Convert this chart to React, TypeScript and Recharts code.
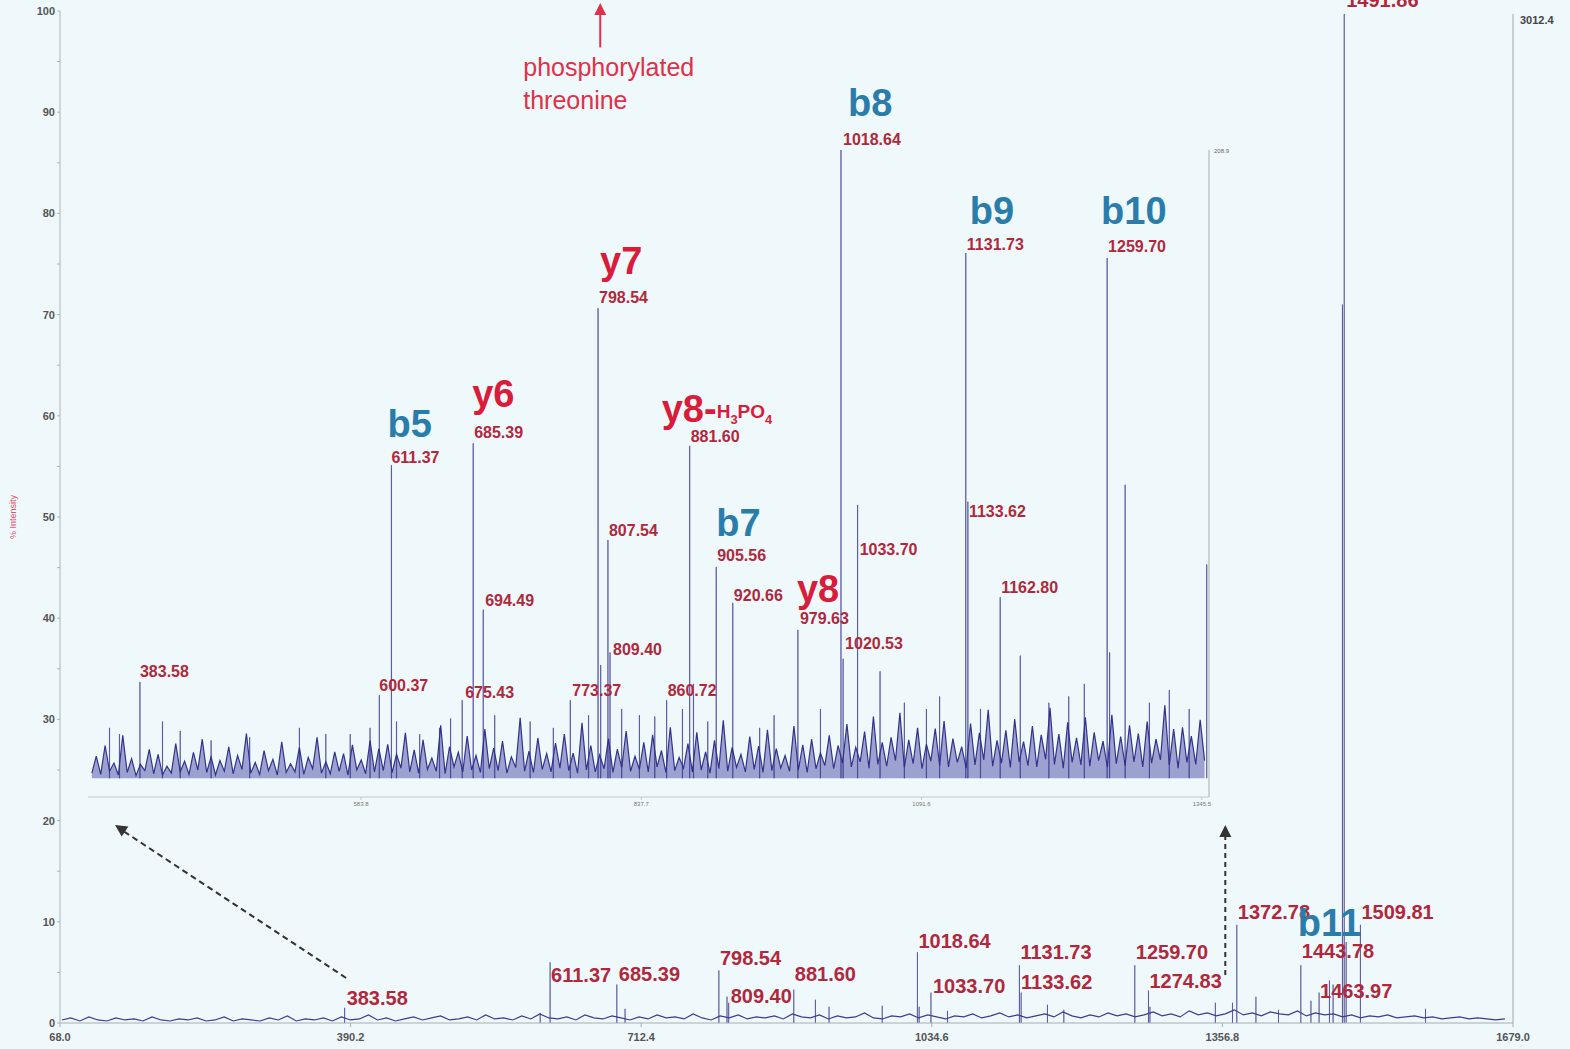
import { ComposedChart, Bar, Area, Line, XAxis, YAxis, ReferenceLine, ReferenceDot } from 'recharts';

const FONT = '"Liberation Sans", Arial, Helvetica, sans-serif';
const BG = '#eff8fb';
const STICK = '#2a2a7c';
const NUM_RED = '#b0283b';
const ION_RED = '#d91c3a';
const ION_BLUE = '#2a7dab';

// ---- full spectrum ----
const mainTicks = [68.0, 390.2, 712.4, 1034.6, 1356.8, 1679.0];
const mainYTicks = [0, 5, 10, 15, 20, 25, 30, 35, 40, 45, 50, 55, 60, 65, 70, 75, 80, 85, 90, 95, 100];

const mainPeakMz = [
  383.58, 600.37, 611.37, 685.39, 694.49, 798.54, 807.54, 809.4, 881.6, 905.56, 920.66, 979.63,
  1018.64, 1020.53, 1033.7, 1052, 1131.73, 1133.62, 1162.8, 1181, 1259.7, 1274.83, 1276.5, 1349,
  1368, 1372.78, 1394, 1419, 1443.78, 1455, 1463.97, 1475.5, 1479.5, 1489.9, 1491.86, 1494, 1509.81, 1582,
];
const mainPeakPct = [
  1.5, 1.0, 6.0, 3.8, 1.4, 5.2, 2.6, 2.0, 3.3, 2.3, 1.6, 1.7,
  7.0, 1.6, 3.0, 1.2, 5.7, 3.0, 1.8, 1.3, 5.7, 3.2, 1.6, 2.0,
  2.0, 9.7, 2.6, 1.3, 5.7, 2.2, 3.0, 4.2, 3.8, 71, 99.7, 8, 9.7, 1.4,
];

// baseline of the full spectrum, sampled every 10 m/z from 70
const mainNoiseStart = 70;
const mainNoiseStep = 10;
const mainNoisePct = [
  0.3, 0.5, 0.2, 0.6, 0.3, 0.2, 0.5, 0.3, 0.4, 0.2, 0.6, 0.3, 0.2, 0.4, 0.3, 0.5, 0.2, 0.3, 0.6, 0.2,
  0.4, 0.3, 0.2, 0.5, 0.3, 0.7, 0.2, 0.4, 0.3, 0.5, 0.2, 0.6, 0.3, 0.4, 0.8, 0.3, 0.5, 0.2, 0.4, 0.6,
  0.3, 0.5, 0.7, 0.3, 0.4, 0.6, 0.3, 0.8, 0.4, 0.5, 0.3, 0.7, 0.4, 0.9, 0.5, 0.4, 0.6, 0.3, 0.8, 0.5,
  0.4, 0.7, 0.5, 0.3, 0.6, 0.4, 0.8, 0.5, 0.6, 0.4, 0.9, 0.5, 0.3, 0.7, 0.5, 0.8, 0.4, 0.6, 0.5, 0.7,
  0.4, 0.9, 0.6, 0.5, 0.8, 0.4, 0.7, 0.5, 0.6, 1.0, 0.5, 0.4, 0.7, 0.6, 0.9, 0.5, 0.8, 0.6, 0.4, 0.7,
  0.6, 0.9, 0.5, 0.7, 1.0, 0.6, 0.8, 0.5, 0.7, 0.9, 0.6, 1.1, 0.7, 0.5, 0.8, 0.6, 1.0, 0.7, 0.9, 0.6,
  0.8, 1.1, 0.7, 0.9, 0.6, 1.2, 0.8, 1.0, 0.7, 0.9, 1.3, 0.8, 1.0, 0.7, 1.1, 0.9, 0.8, 1.2, 0.7, 1.0,
  0.8, 0.9, 0.6, 0.8, 0.5, 0.7, 0.6, 0.8, 0.5, 0.6, 0.7, 0.5, 0.6, 0.4, 0.5, 0.6, 0.4, 0.5, 0.4, 0.3,
  0.4,
];

const mainMassLabels = [
  383.58, 611.37, 685.39, 798.54, 809.4, 881.6, 1018.64, 1033.7, 1131.73, 1133.62,
  1259.7, 1274.83, 1372.78, 1443.78, 1463.97, 1491.86, 1509.81,
];
const mainIons = [{ ion: 'b11', mz: 1443.78 }];

// ---- inset (expanded 336–1352 region) ----
const insetTicks = [583.8, 837.7, 1091.6, 1345.5];
const insetPeakMz = [
  356, 365, 383.58, 404, 420, 448, 483, 528, 552, 574, 592, 600.37, 611.37, 616, 637, 655, 665,
  675.43, 685.39, 694.49, 705, 737, 758, 773.37, 790, 798.54, 801, 807.54, 809.4, 820, 836, 850,
  860.72, 875, 881.6, 885, 898, 905.56, 920.66, 945, 958, 979.63, 1000, 1018.64, 1020.53, 1033.7,
  1054, 1076, 1096, 1108, 1131.73, 1133.62, 1145, 1162.8, 1181, 1207, 1225, 1239, 1259.7, 1262,
  1276, 1298, 1316, 1334, 1350,
];
const insetPeakPct = [
  8, 7, 15.3, 9, 7.5, 6, 6.5, 8, 7, 7, 8, 13.2, 49.8, 9, 7, 8, 9.5,
  12.4, 53.3, 26.8, 10, 9, 8, 12.4, 10, 74.8, 18, 37.9, 20, 11, 10, 9.8,
  12.4, 11, 52.9, 15, 9, 33.6, 27.9, 8, 10, 23.6, 11, 100, 19, 43.5,
  17, 12, 11, 13, 83.6, 44, 11, 28.8, 19.5, 12, 13, 15, 82.8, 20,
  46.7, 12, 14, 11, 34,
];

// inset baseline noise, sampled every 4 m/z from 340
const insetNoiseStart = 340;
const insetNoiseStep = 4;
const insetNoisePct = [
  0.8, 3.5, 0.6, 5.2, 1.1, 2.4, 0.5, 6.8, 0.9, 3.1, 0.4, 2.2, 1.2, 4.6, 0.7, 3.8, 0.5, 1.9, 0.8, 5.5,
  1.0, 2.7, 0.6, 4.1, 1.3, 6.2, 0.9, 3.4, 0.5, 2.8, 1.1, 5.0, 0.7, 3.6, 1.4, 7.1, 0.8, 2.5, 0.6, 4.4,
  1.2, 3.0, 0.5, 5.8, 0.9, 2.3, 1.0, 4.9, 0.6, 3.3, 1.5, 6.5, 0.8, 2.6, 0.7, 4.2, 1.1, 3.9, 0.5, 5.3,
  1.3, 2.9, 0.7, 6.0, 1.0, 4.7,
  1.2, 5.4, 0.9, 3.8, 1.6, 7.2, 1.0, 4.5, 0.8, 6.1, 1.4, 3.2, 1.1, 8.4, 0.7, 5.0, 1.8, 4.1, 1.0, 6.7,
  1.3, 3.6, 0.9, 7.8, 1.5, 4.8, 1.2, 5.9, 0.8, 3.4, 1.7, 9.6, 1.1, 4.3, 0.9, 6.4, 1.4, 3.9, 1.0, 5.6,
  1.6, 7.0, 1.2, 4.0, 0.8, 8.8, 1.3, 5.2, 1.0, 3.7, 1.5, 6.3, 0.9, 4.6, 1.7, 7.5, 1.1, 3.5, 1.4, 5.7,
  1.0, 6.9, 1.8, 4.4, 0.9, 8.1, 1.2, 3.3, 1.6, 5.5, 1.0, 7.3, 1.3, 4.2, 0.8, 6.0, 1.5, 9.2, 1.1, 4.9,
  1.7, 3.8, 1.0, 6.6, 1.4, 5.1, 0.9, 7.7, 1.2, 4.7, 1.6, 3.6, 1.1, 8.3, 1.3, 5.3, 0.9, 6.2, 1.5, 4.0,
  2.0, 6.8, 1.5, 5.2, 2.4, 8.6, 1.8, 4.9, 2.6, 7.4, 1.6, 9.8, 2.2, 5.7, 1.9, 6.5, 2.8, 10.4, 1.7, 6.1,
  2.3, 8.0, 1.5, 5.4, 2.7, 7.9, 2.0, 9.1, 1.8, 6.3, 2.5, 5.0, 1.6, 8.7, 2.1, 7.2, 2.9, 10.9, 1.9, 6.0,
  2.4, 7.6, 1.7, 9.4, 2.6, 5.8, 2.0, 8.3, 1.8, 6.9, 3.0, 11.2, 2.2, 7.0, 1.6, 8.9, 2.5, 6.4, 2.1, 9.7,
  1.9, 7.3, 2.8, 5.9, 1.7, 10.1, 2.3, 6.6, 2.0, 8.4, 2.6, 7.1, 1.8, 9.0, 2.4, 6.2, 2.9, 11.6, 2.1, 7.8,
  1.6, 8.1, 2.5, 6.7, 2.2, 9.3, 2.8,
];

const insetMassLabels = [
  383.58, 600.37, 611.37, 675.43, 685.39, 694.49, 773.37, 798.54, 807.54, 809.4, 860.72, 881.6,
  905.56, 920.66, 979.63, 1018.64, 1020.53, 1033.7, 1131.73, 1133.62, 1162.8, 1259.7,
];
const insetIons = [
  { ion: 'b5', mz: 611.37 },
  { ion: 'y6', mz: 685.39 },
  { ion: 'y7', mz: 798.54 },
  { ion: 'y8-H3PO4', mz: 881.6 },
  { ion: 'b7', mz: 905.56 },
  { ion: 'y8', mz: 979.63 },
  { ion: 'b8', mz: 1018.64 },
  { ion: 'b9', mz: 1131.73 },
  { ion: 'b10', mz: 1259.7 },
];

// label offsets (px) from peak tops
const mainLabelOffset: Record<string, [number, number]> = {
  '383.58': [2, -3], '611.37': [1, 20], '685.39': [2, -4], '798.54': [1, -5], '809.40': [2, 0],
  '881.60': [1, -9], '1018.64': [1, -4], '1033.70': [2, 0], '1131.73': [1, -6], '1133.62': [0, -4],
  '1259.70': [1, -6], '1274.83': [1, -3], '1372.78': [1, -6], '1443.78': [1, -7], '1463.97': [1, 5],
  '1491.86': [2, -7], '1509.81': [1, -6],
};
const insetLabelOffset: Record<string, [number, number]> = {
  '383.58': [0, -5], '600.37': [0, -4], '611.37': [0, -2], '675.43': [3, -2], '685.39': [1, -5],
  '694.49': [2, -4], '773.37': [2, -4], '798.54': [1, -5], '807.54': [1, -4], '809.40': [3, 2],
  '860.72': [1, -4], '881.60': [1, -4], '905.56': [1, -6], '920.66': [1, -2], '979.63': [2, -6],
  '1018.64': [2, -5], '1020.53': [2, -10], '1033.70': [2, 50], '1131.73': [1, -3], '1133.62': [1, 15],
  '1162.80': [1, -4], '1259.70': [1, -6],
};
const ionOffset: Record<string, [number, number]> = {
  b5: [-4, -28], y6: [-1, -36], y7: [2, -34], 'y8-H3PO4': [-28, -24], b7: [0, -31],
  y8: [-1, -28], b8: [7, -34], b9: [4, -29], b10: [-6, -34], b11: [-3, -29],
};

type Row = { mz: number; p?: number; n?: number };

function buildRows(peakMz: number[], peakPct: number[], start: number, step: number, noise: number[]) {
  const rows: Row[] = noise.map((n, i) => ({ mz: start + i * step, n }));
  peakMz.forEach((mz, i) => rows.push({ mz, p: peakPct[i] }));
  return rows.sort((a, b) => a.mz - b.mz);
}

const mainRows = buildRows(mainPeakMz, mainPeakPct, mainNoiseStart, mainNoiseStep, mainNoisePct);
const insetRows = buildRows(insetPeakMz, insetPeakPct, insetNoiseStart, insetNoiseStep, insetNoisePct);

const heightAt = (mzs: number[], pcts: number[], mz: number) => pcts[mzs.indexOf(mz)];

function IonText({ x, y, ion }: { x: number; y: number; ion: string }) {
  const color = ion.startsWith('b') ? ION_BLUE : ION_RED;
  if (ion === 'y8-H3PO4') {
    return (
      <text x={x} y={y} fill={color} fontFamily={FONT} fontWeight={700} fontSize={38}>
        <tspan>y8-</tspan>
        <tspan fontSize={19} dy={-4}>H</tspan>
        <tspan fontSize={13} dy={6}>3</tspan>
        <tspan fontSize={19} dy={-6}>PO</tspan>
        <tspan fontSize={13} dy={6}>4</tspan>
      </text>
    );
  }
  return (
    <text x={x} y={y} fill={color} fontFamily={FONT} fontWeight={700} fontSize={38}>
      {ion}
    </text>
  );
}

const arrowHead = (angle: number, color: string) => (p: any) => (
  <polygon
    points="0,0 -12,-6 -12,6"
    fill={color}
    transform={`translate(${p.cx},${p.cy}) rotate(${angle})`}
  />
);

function YTick(props: any) {
  const { x, y, payload } = props;
  if (payload.value % 10 !== 0) return null;
  return (
    <text x={x} y={y + 4} textAnchor="end" fontSize={11} fontWeight={700} fill="#555" fontFamily={FONT}>
      {payload.value}
    </text>
  );
}

export default function App() {
  return (
    <div style={{ position: 'absolute', left: 0, top: 0, width: 1570, height: 1049, background: BG, overflow: 'hidden' }}>
      <ComposedChart width={1570} height={1049} data={mainRows} margin={{ top: 11, right: 57, bottom: 0, left: 0 }}>
        <XAxis
          dataKey="mz"
          type="number"
          domain={[68, 1679]}
          ticks={mainTicks}
          interval={0}
          allowDataOverflow
          height={26}
          tickFormatter={(v: number) => v.toFixed(1)}
          tick={{ fontSize: 11, fontWeight: 700, fill: '#555', fontFamily: FONT }}
          tickSize={4}
          tickMargin={6}
          stroke="#a9adb0"
        />
        <YAxis
          type="number"
          domain={[0, 100]}
          ticks={mainYTicks}
          interval={0}
          width={60}
          tick={<YTick />}
          tickSize={3}
          tickMargin={2}
          stroke="#b0b4b8"
          label={{
            content: (p: any) => (
              <text
                x={16}
                y={p.viewBox.y + p.viewBox.height / 2}
                transform={`rotate(-90 16 ${p.viewBox.y + p.viewBox.height / 2})`}
                textAnchor="middle"
                fontSize={9}
                fill="#e2506a"
                fontFamily={FONT}
              >
                % Intensity
              </text>
            ),
          }}
        />
        <Line dataKey="n" type="linear" stroke="#3c3c92" strokeWidth={1.2} dot={false} connectNulls isAnimationActive={false} />
        <Bar dataKey="p" fill={STICK} stroke={STICK} strokeWidth={0.5} barSize={2} isAnimationActive={false} />
        <ReferenceLine segment={[{ x: 1679, y: 0 }, { x: 1679, y: 99.7 }]} stroke="#a0a4a8" ifOverflow="visible" />
        <ReferenceDot
          x={1679}
          y={99.7}
          r={0}
          ifOverflow="visible"
          shape={(p: any) => (
            <text x={p.cx + 7} y={p.cy + 10} fontSize={11} fontWeight={700} fill="#444" fontFamily={FONT}>3012.4</text>
          )}
        />
        {/* dashed arrows linking the inset to the full spectrum */}
        <ReferenceLine segment={[{ x: 385.2, y: 4.45 }, { x: 136, y: 19.1 }]} stroke="#333" strokeWidth={2} strokeDasharray="6 4" ifOverflow="visible" />
        <ReferenceDot x={129} y={19.57} r={0} ifOverflow="visible" shape={arrowHead(213.5, '#333')} />
        <ReferenceLine segment={[{ x: 1360, y: 4.74 }, { x: 1360, y: 18.6 }]} stroke="#333" strokeWidth={2} strokeDasharray="5 4" ifOverflow="visible" />
        <ReferenceDot x={1360} y={19.57} r={0} ifOverflow="visible" shape={arrowHead(-90, '#333')} />
        {/* phosphorylated threonine marker */}
        <ReferenceLine segment={[{ x: 667, y: 96.4 }, { x: 667, y: 99.8 }]} stroke="#e0304a" strokeWidth={2} ifOverflow="visible" />
        <ReferenceDot x={667} y={100.8} r={0} ifOverflow="visible" shape={arrowHead(-90, '#e0304a')} />
        <ReferenceDot
          x={667}
          y={93.58}
          r={0}
          ifOverflow="visible"
          shape={(p: any) => (
            <text x={p.cx - 77} y={p.cy} fontSize={25} fill="#e0304a" fontFamily={FONT}>
              <tspan x={p.cx - 77}>phosphorylated</tspan>
              <tspan x={p.cx - 77} dy={33}>threonine</tspan>
            </text>
          )}
        />
        {mainMassLabels.map((mz) => {
          const key = mz.toFixed(2);
          const [dx, dy] = mainLabelOffset[key] || [1, -5];
          return (
            <ReferenceDot
              key={'m' + key}
              x={mz}
              y={heightAt(mainPeakMz, mainPeakPct, mz)}
              r={0}
              ifOverflow="visible"
              shape={(p: any) => (
                <text x={p.cx + dx} y={p.cy + dy} fontSize={20} fontWeight={700} fill={NUM_RED} fontFamily={FONT}>{key}</text>
              )}
            />
          );
        })}
        {mainIons.map((d) => {
          const [dx, dy] = ionOffset[d.ion];
          return (
            <ReferenceDot
              key={'mi' + d.ion}
              x={d.mz}
              y={heightAt(mainPeakMz, mainPeakPct, d.mz)}
              r={0}
              ifOverflow="visible"
              shape={(p: any) => <IonText x={p.cx + dx} y={p.cy + dy} ion={d.ion} />}
            />
          );
        })}
      </ComposedChart>

      <div style={{ position: 'absolute', left: 88, top: 40 }}>
        <ComposedChart width={1151} height={777} data={insetRows} margin={{ top: 110, right: 30, bottom: 0, left: 0 }}>
          <XAxis
            dataKey="mz"
            type="number"
            domain={[336.5, 1352]}
            ticks={insetTicks}
            interval={0}
            allowDataOverflow
            height={20}
            tickFormatter={(v: number) => v.toFixed(1)}
            tick={{ fontSize: 6, fill: '#777', fontFamily: FONT }}
            tickSize={3}
            tickMargin={2}
            stroke="#c3c7ca"
          />
          <YAxis type="number" domain={[-3, 100]} hide allowDataOverflow />
          <Area
            dataKey="n"
            type="linear"
            stroke="#33338c"
            strokeWidth={1.2}
            fill="#4a4aa4"
            fillOpacity={0.5}
            baseValue={0}
            dot={false}
            connectNulls
            isAnimationActive={false}
          />
          <Bar dataKey="p" fill="#30308a" stroke="#30308a" strokeWidth={0.5} barSize={2} isAnimationActive={false} />
          <ReferenceLine segment={[{ x: 1352, y: -3 }, { x: 1352, y: 100 }]} stroke="#a8acb0" ifOverflow="visible" />
          <ReferenceDot
            x={1352}
            y={100}
            r={0}
            ifOverflow="visible"
            shape={(p: any) => (
              <text x={p.cx + 5} y={p.cy + 3} fontSize={6} fill="#666" fontFamily={FONT}>208.9</text>
            )}
          />
          {insetMassLabels.map((mz) => {
            const key = mz.toFixed(2);
            const [dx, dy] = insetLabelOffset[key] || [1, -5];
            return (
              <ReferenceDot
                key={'i' + key}
                x={mz}
                y={heightAt(insetPeakMz, insetPeakPct, mz)}
                r={0}
                ifOverflow="visible"
                shape={(p: any) => (
                  <text x={p.cx + dx} y={p.cy + dy} fontSize={16} fontWeight={700} fill={NUM_RED} fontFamily={FONT}>{key}</text>
                )}
              />
            );
          })}
          {insetIons.map((d) => {
            const [dx, dy] = ionOffset[d.ion];
            return (
              <ReferenceDot
                key={'ii' + d.ion}
                x={d.mz}
                y={heightAt(insetPeakMz, insetPeakPct, d.mz)}
                r={0}
                ifOverflow="visible"
                shape={(p: any) => <IonText x={p.cx + dx} y={p.cy + dy} ion={d.ion} />}
              />
            );
          })}
        </ComposedChart>
      </div>
    </div>
  );
}
